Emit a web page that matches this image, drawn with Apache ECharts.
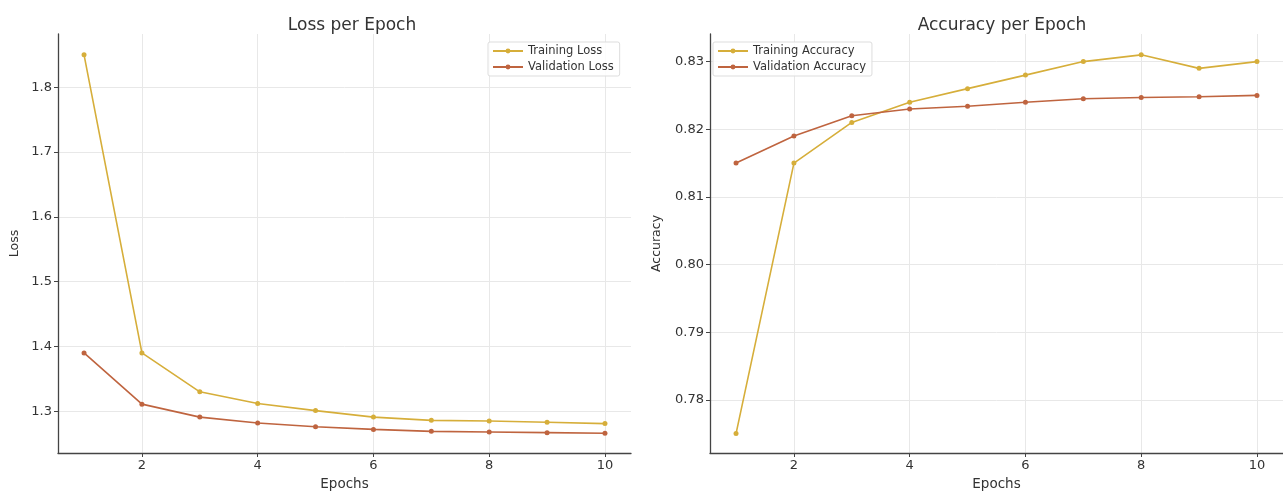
<!DOCTYPE html>
<html>
<head>
<meta charset="utf-8">
<script src="https://cdn.jsdelivr.net/npm/echarts@6/dist/echarts.min.js"></script>
<style>
html,body{margin:0;padding:0;background:#fff;}
#chart{width:1283px;height:496px;}
</style>
</head>
<body>
<div id="chart"></div>
<script>
const epochs = [1,2,3,4,5,6,7,8,9,10];
const trainingLoss = [1.85, 1.39, 1.33, 1.312, 1.301, 1.291, 1.286, 1.285, 1.283, 1.281];
const validationLoss = [1.39, 1.311, 1.291, 1.282, 1.276, 1.272, 1.269, 1.268, 1.267, 1.266];
const trainingAcc = [0.775, 0.815, 0.821, 0.824, 0.826, 0.828, 0.830, 0.831, 0.829, 0.830];
const validationAcc = [0.815, 0.819, 0.822, 0.823, 0.8234, 0.824, 0.8245, 0.8247, 0.8248, 0.825];
const xTicks = [2,4,6,8,10];
const lossTicks = [1.3,1.4,1.5,1.6,1.7,1.8];
const accTicks = [0.78,0.79,0.80,0.81,0.82,0.83];

const FONT = 'DejaVu Sans';
const C_TRAIN = '#d6ae3a';
const C_VAL = '#bf643f';
const AXIS_COL = '#444';

function pairs(xs, ys){ return xs.map((x,i)=>[x, ys[i]]); }

function xAxisCfg(gridIndex){
  return {
    type:'value', gridIndex, min:0.55, max:10.45,
    name:'Epochs', nameLocation:'middle', nameGap:24,
    nameTextStyle:{fontFamily:FONT,fontSize:13.5,color:'#333'},
    axisLine:{show:true,lineStyle:{color:AXIS_COL,width:1.3}},
    axisTick:{show:true,customValues:xTicks,length:4,lineStyle:{color:AXIS_COL}},
    axisLabel:{customValues:xTicks,fontFamily:FONT,fontSize:13,color:'#333',margin:6},
    splitLine:{show:true,lineStyle:{color:'#e8e8e8',width:1}}
  };
}
function yAxisCfg(gridIndex, name, min, max, ticks, digits, gap){
  return {
    type:'value', gridIndex, min, max,
    name, nameLocation:'middle', nameGap:gap, nameRotate:90,
    nameTextStyle:{fontFamily:FONT,fontSize:12.5,color:'#333'},
    axisLine:{show:true,lineStyle:{color:AXIS_COL,width:1.3}},
    axisTick:{show:true,customValues:ticks,length:4,lineStyle:{color:AXIS_COL}},
    axisLabel:{customValues:ticks,fontFamily:FONT,fontSize:13,color:'#333',margin:6,
      formatter:v=>v.toFixed(digits)},
    splitLine:{show:true,lineStyle:{color:'#e8e8e8',width:1}}
  };
}
function lineSeries(name, data, color, idx){
  return {
    type:'line', name, data, xAxisIndex:idx, yAxisIndex:idx,
    symbol:'circle', symbolSize:5, showSymbol:true,
    lineStyle:{color, width:1.6},
    itemStyle:{color},
    emphasis:{disabled:true}, animation:false
  };
}
function legendCfg(data, left, top){
  return {
    data, left, top, orient:'vertical',
    itemWidth:30, itemHeight:6, itemGap:4,
    padding:[3,6,3,4],
    borderColor:'#dddddd', borderWidth:1, borderRadius:2,
    backgroundColor:'rgba(255,255,255,0.85)',
    textStyle:{fontFamily:FONT,fontSize:11.5,color:'#333'}
  };
}

const chart = echarts.init(document.getElementById('chart'), null, {renderer:'canvas'});
chart.setOption({
  animation:false,
  backgroundColor:'#fff',
  title:[
    {text:'Loss per Epoch', left:347, top:12, textAlign:'center',
     textStyle:{fontFamily:FONT,fontSize:17,fontWeight:'normal',color:'#333'}},
    {text:'Accuracy per Epoch', left:997, top:12, textAlign:'center',
     textStyle:{fontFamily:FONT,fontSize:17,fontWeight:'normal',color:'#333'}}
  ],
  legend:[
    legendCfg(['Training Loss','Validation Loss'], 488, 42),
    legendCfg(['Training Accuracy','Validation Accuracy'], 713, 42)
  ],
  grid:[
    {left:58, top:34, width:573, height:425, containLabel:false},
    {left:710, top:34, width:580, height:425, containLabel:false}
  ],
  xAxis:[xAxisCfg(0), xAxisCfg(1)],
  yAxis:[
    yAxisCfg(0,'Loss',1.2356,1.8822,lossTicks,1,37),
    yAxisCfg(1,'Accuracy',0.77213,0.83408,accTicks,2,47)
  ],
  series:[
    lineSeries('Training Loss', pairs(epochs,trainingLoss), C_TRAIN, 0),
    lineSeries('Validation Loss', pairs(epochs,validationLoss), C_VAL, 0),
    lineSeries('Training Accuracy', pairs(epochs,trainingAcc), C_TRAIN, 1),
    lineSeries('Validation Accuracy', pairs(epochs,validationAcc), C_VAL, 1)
  ]
});
</script>
</body>
</html>
